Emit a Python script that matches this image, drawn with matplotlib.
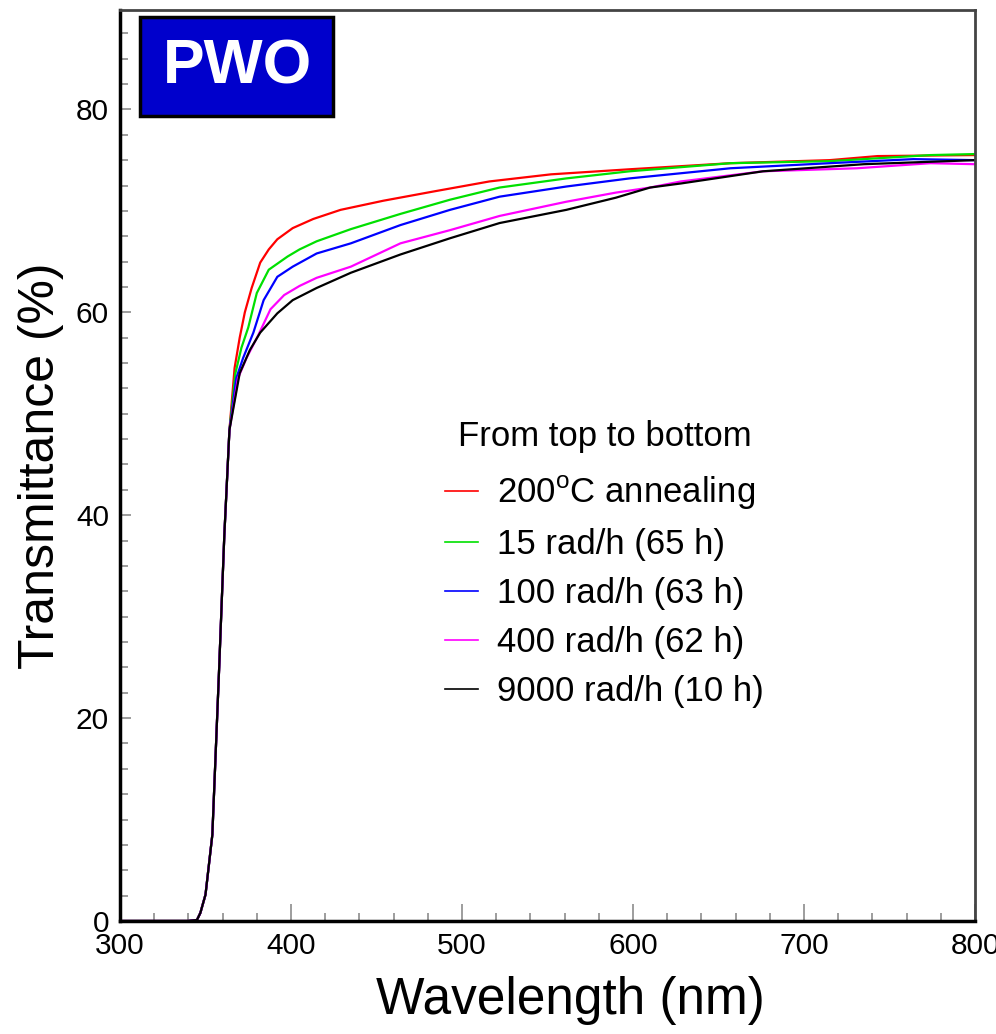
import numpy as np
import matplotlib
matplotlib.use("Agg")
import matplotlib.pyplot as plt
from matplotlib.patches import Rectangle
from matplotlib.ticker import MultipleLocator

plt.rcParams["font.family"] = ["Liberation Sans", "DejaVu Sans"]
plt.rcParams["mathtext.fontset"] = "custom"
plt.rcParams["mathtext.rm"] = "Liberation Sans"

# --- data (wavelength in nm, transmittance in %) ---
# the absorption edge is shared by all samples
edge_wl = [300, 340, 345, 347, 350, 354, 358, 361, 364]
edge_tr = [0.0, 0.0, 0.1, 0.8, 2.6, 8.5, 25.0, 38.0, 48.4]

red_wl = [367, 370, 373, 377, 382, 387, 392, 401, 413, 429, 454, 483, 516, 552,
          598, 657, 715, 743, 800]
red_tr = [54.5, 57.5, 60.0, 62.4, 64.9, 66.2, 67.2, 68.3, 69.2, 70.1, 71.0, 71.9,
          72.9, 73.6, 74.1, 74.7, 75.0, 75.4, 75.5]

green_wl = [367.5, 371, 375, 380, 387, 398, 405, 415, 435, 464, 493, 522, 561,
            598, 657, 715, 774, 800]
green_tr = [54.0, 56.5, 58.5, 61.9, 64.2, 65.5, 66.2, 67.0, 68.2, 69.7, 71.1,
            72.3, 73.2, 73.9, 74.7, 74.9, 75.5, 75.6]

blue_wl = [368, 372, 378, 384, 392, 401, 415, 435, 464, 493, 522, 561, 598, 657,
           715, 764, 800]
blue_tr = [53.5, 55.5, 58.0, 61.2, 63.5, 64.5, 65.8, 66.8, 68.6, 70.1, 71.4, 72.4,
           73.2, 74.2, 74.7, 75.1, 75.0]

magenta_wl = [369, 374, 381, 388, 396, 405, 415, 435, 464, 493, 522, 561, 590,
              610, 628, 676, 731, 774, 800]
magenta_tr = [53.5, 55.5, 57.8, 60.3, 61.7, 62.6, 63.4, 64.5, 66.8, 68.1, 69.5,
              70.9, 71.8, 72.3, 72.9, 73.9, 74.2, 74.7, 74.6]

black_wl = [370, 376, 382, 392, 401, 415, 435, 464, 493, 522, 561, 590, 610, 628,
            676, 735, 800]
black_tr = [54.0, 56.3, 58.0, 59.9, 61.2, 62.4, 63.9, 65.7, 67.3, 68.8, 70.1, 71.3,
            72.3, 72.7, 73.9, 74.6, 75.0]

labels = ["200$^{\\mathrm{o}}$C annealing", "15 rad/h (65 h)", "100 rad/h (63 h)",
          "400 rad/h (62 h)", "9000 rad/h (10 h)"]
colors = ["#ff0000", "#00e000", "#0000ff", "#ff00ff", "#000000"]

series = [(red_wl, red_tr), (green_wl, green_tr), (blue_wl, blue_tr),
          (magenta_wl, magenta_tr), (black_wl, black_tr)]

# --- figure ---
fig = plt.figure(figsize=(9.96, 10.34), dpi=100)
ax = fig.add_axes([120 / 996, 1 - 921 / 1034, 855 / 996, 911 / 1034])

# black drawn last so it sits on top like the original
for (wl, tr), lab, col in zip(series, labels, colors):
    ax.plot(edge_wl + wl, edge_tr + tr, color=col, lw=1.6, label=lab)

ax.set_xlim(300, 800)
ax.set_ylim(0, 89.8)
ax.xaxis.set_major_locator(MultipleLocator(100))
ax.xaxis.set_minor_locator(MultipleLocator(20))
ax.yaxis.set_major_locator(MultipleLocator(20))
ax.yaxis.set_minor_locator(MultipleLocator(2.5))

ax.tick_params(which="both", direction="in", color="#8c8c8c", width=1.2,
               labelsize=21.5)
ax.tick_params(axis="x", which="major", length=12, pad=8)
ax.tick_params(axis="y", which="major", length=8, pad=8)
ax.tick_params(which="minor", length=6)

for side in ["left", "bottom"]:
    ax.spines[side].set_linewidth(2.5)
    ax.spines[side].set_color("black")
for side in ["top", "right"]:
    ax.spines[side].set_linewidth(2)
    ax.spines[side].set_color("#444444")

ax.set_xlabel("Wavelength (nm)", fontsize=37)
ax.set_ylabel("Transmittance (%)", fontsize=36)
ax.xaxis.set_label_coords(0.527, -0.060)
ax.yaxis.set_label_coords(-0.066, 0.5)

leg = ax.legend(loc="upper left", bbox_to_anchor=((445 - 120) / 855, (921 - 420) / 911),
                frameon=False, fontsize=25, title="From top to bottom",
                title_fontsize=25, handlelength=0.95, handletextpad=0.55,
                labelspacing=0.46, borderpad=0, borderaxespad=0)
leg._legend_box.sep = 15
for h in leg.get_lines():
    h.set_linewidth(1.2)

# PWO label box
ax.add_patch(Rectangle(((140 - 120) / 855, (921 - 116) / 911), 193 / 855, 99 / 911,
                       transform=ax.transAxes, facecolor="#0000cc",
                       edgecolor="black", lw=2.5, zorder=5, clip_on=False))
ax.text((237.5 - 120) / 855, (921 - 67.5) / 911, "PWO", transform=ax.transAxes,
        color="white", fontsize=45, fontweight="bold", ha="center",
        va="center", zorder=6)

fig.savefig("out.png", dpi=100)
